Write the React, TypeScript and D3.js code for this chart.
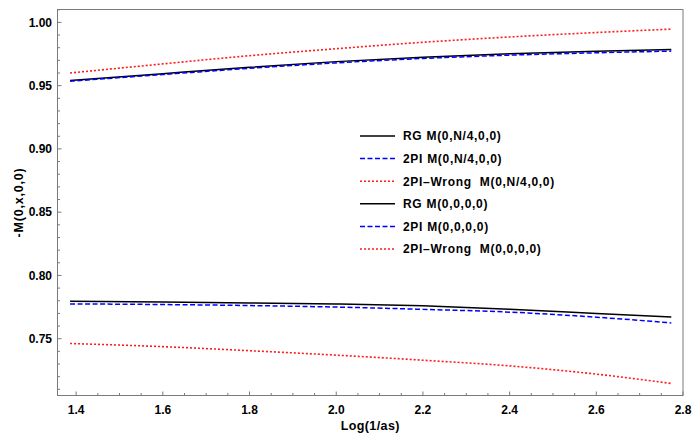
import React, { useRef, useEffect } from 'react';
import * as d3 from 'd3';

// sample points along Log(1/as)
const xs = [1.386, 1.6, 1.8, 2.0, 2.2, 2.4, 2.6, 2.773];

// N/4 curves
const rgN4 = [0.954, 0.9595, 0.9645, 0.969, 0.9725, 0.9752, 0.9772, 0.9785];
const pi2N4 = [0.9535, 0.9588, 0.9637, 0.968, 0.9715, 0.9741, 0.976, 0.9773];
const wrongN4 = [0.96, 0.9672, 0.9737, 0.9792, 0.9843, 0.9885, 0.992, 0.9947];

// zero-momentum curves
const rg0 = [0.7796, 0.779, 0.7783, 0.7775, 0.776, 0.7733, 0.77, 0.7672];
const pi20 = [0.7775, 0.777, 0.7762, 0.775, 0.7732, 0.771, 0.767, 0.7625];
const wrong0 = [0.7462, 0.7437, 0.7405, 0.737, 0.733, 0.7285, 0.722, 0.7146];

const legendLabels = [
  'RG M(0,N/4,0,0)',
  '2PI M(0,N/4,0,0)',
  '2PI\u2013Wrong  M(0,N/4,0,0)',
  'RG M(0,0,0,0)',
  '2PI M(0,0,0,0)',
  '2PI\u2013Wrong  M(0,0,0,0)',
];

const xTicks = [1.4, 1.6, 1.8, 2.0, 2.2, 2.4, 2.6, 2.8];
const yTicks = [0.75, 0.8, 0.85, 0.9, 0.95, 1.0];

function App() {
  const ref = useRef(null);

  useEffect(() => {
    const svg = d3.select(ref.current);
    svg.selectAll('*').remove();

    const left = 57.5, right = 683, top = 9.5, bottom = 395.5;
    const font = 'Liberation Sans, Arial, sans-serif';
    const axisColor = '#7a7a7a';

    const x = d3.scaleLinear().domain([1.357, 2.8]).range([left, right]);
    const y = d3.scaleLinear().domain([0.7051, 1.0102]).range([bottom, top]);

    // frame
    svg.append('rect')
      .attr('x', left).attr('y', top)
      .attr('width', right - left).attr('height', bottom - top)
      .attr('fill', 'none').attr('stroke', axisColor).attr('stroke-width', 1);

    // x ticks (inward)
    const xMinor = d3.range(1.4, 2.8001, 0.05);
    svg.append('g').selectAll('line').data(xMinor).join('line')
      .attr('x1', d => x(d)).attr('x2', d => x(d))
      .attr('y1', bottom).attr('y2', (d, i) => bottom - (i % 4 === 0 ? 4 : 2.5))
      .attr('stroke', axisColor);
    svg.append('g').selectAll('text').data(xTicks).join('text')
      .attr('x', d => x(d)).attr('y', 414)
      .attr('text-anchor', 'middle')
      .attr('font-family', font).attr('font-weight', 'bold').attr('font-size', 12)
      .text(d => d3.format('.1f')(d));

    // y ticks (inward)
    const yMinor = d3.range(0.71, 1.0101, 0.01);
    svg.append('g').selectAll('line').data(yMinor).join('line')
      .attr('x1', left).attr('x2', d => left + (Math.abs(Math.round(d * 100) % 5) === 0 ? 4 : 2.5))
      .attr('y1', d => y(d)).attr('y2', d => y(d))
      .attr('stroke', axisColor);
    svg.append('g').selectAll('text').data(yTicks).join('text')
      .attr('x', 52).attr('y', d => y(d) + 4.3)
      .attr('text-anchor', 'end')
      .attr('font-family', font).attr('font-weight', 'bold').attr('font-size', 12)
      .text(d => d3.format('.2f')(d));

    // axis titles
    svg.append('text')
      .attr('x', (left + right) / 2).attr('y', 430)
      .attr('text-anchor', 'middle')
      .attr('font-family', font).attr('font-weight', 'bold').attr('font-size', 12.5)
      .attr('letter-spacing', 0.4)
      .text('Log(1/as)');
    svg.append('text')
      .attr('transform', `translate(23,${(top + bottom) / 2}) rotate(-90)`)
      .attr('text-anchor', 'middle')
      .attr('font-family', font).attr('font-weight', 'bold').attr('font-size', 12.5)
      .attr('letter-spacing', 0.8)
      .text('-M(0,x,0,0)');

    const styles = [
      { color: '#000000', dash: null, width: 1.5 },
      { color: '#0000ff', dash: '5,2.5', width: 1.5 },
      { color: '#ff1a1a', dash: '2,2', width: 1.6 },
    ];
    const series = [rgN4, pi2N4, wrongN4, rg0, pi20, wrong0];

    const line = d3.line()
      .x(d => x(d[0]))
      .y(d => y(d[1]))
      .curve(d3.curveMonotoneX);

    // red first, then black, blue dashes on top
    const order = [2, 5, 0, 3, 1, 4];
    order.forEach(i => {
      const s = styles[i % 3];
      svg.append('path')
        .datum(xs.map((v, j) => [v, series[i][j]]))
        .attr('d', line)
        .attr('fill', 'none')
        .attr('stroke', s.color)
        .attr('stroke-width', s.width)
        .attr('stroke-dasharray', s.dash);
    });

    // legend
    const lg = svg.append('g');
    legendLabels.forEach((lab, i) => {
      const s = styles[i % 3];
      const ly = 136 + i * 22.6;
      lg.append('line')
        .attr('x1', 360).attr('x2', 395).attr('y1', ly).attr('y2', ly)
        .attr('stroke', s.color).attr('stroke-width', s.width)
        .attr('stroke-dasharray', s.dash);
      lg.append('text')
        .attr('x', 403).attr('y', ly + 4.3)
        .attr('font-family', font).attr('font-weight', 'bold').attr('font-size', 12)
        .attr('letter-spacing', 0.7)
        .style('white-space', 'pre')
        .text(lab);
    });
  }, []);

  return (
    <svg ref={ref} width={693} height={434}
      style={{ position: 'absolute', left: 0, top: 0, background: '#fff' }} />
  );
}

export default App;
